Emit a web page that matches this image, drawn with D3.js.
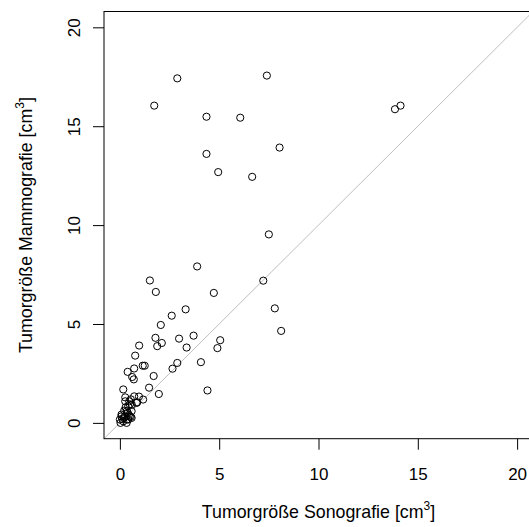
<!DOCTYPE html>
<html>
<head>
<meta charset="utf-8">
<script src="https://cdn.jsdelivr.net/npm/d3@7"></script>
<style>
  body { margin: 0; background: #fff; }
  svg { display: block; font-family: "Liberation Sans", Arial, sans-serif; }
</style>
</head>
<body>
<svg width="529" height="527"></svg>
<script>
// Tumorgröße: Sonografie (x) vs. Mammografie (y), cm^3
const sono = [
  2.89, 1.73, 4.36, 6.06, 7.40, 8.04, 4.36, 4.95, 6.66, 13.85, 14.13, 7.50, 7.22, 7.80, 8.12,
  3.89, 1.51, 1.81, 4.73, 3.31, 2.61, 2.06, 1.79, 2.11, 1.88, 2.98, 3.71, 5.05, 4.91, 3.36,
  4.08, 4.41, 2.89, 2.65, 1.70, 1.47, 1.96, 0.97, 0.77, 1.15, 1.25, 0.72, 0.39, 0.62, 0.70,
  0.17, 0.27, 0.55, 0.96, 1.17, 0.87,
  0.50, 0.29, 0.22, 0.39, 0.55, 0.08, 0.00, 0.17, 0.34, 0.72, 0.27, 0.47, 0.60, 0.84, 0.42,
  0.34, 0.59, 0.08, 0.25, 0.50, 0.42, 0.59, 0.34, 0.03, 0.12, 0.20, 0.45
];
const mammo = [
  17.42, 16.04, 15.48, 15.43, 17.56, 13.92, 13.60, 12.68, 12.44, 15.86, 16.04, 9.53, 7.19, 5.79, 4.65,
  7.91, 7.20, 6.62, 6.57, 5.74, 5.42, 4.95, 4.30, 4.04, 3.88, 4.26, 4.41, 4.18, 3.78, 3.81,
  3.07, 1.64, 3.03, 2.74, 2.37, 1.78, 1.46, 3.91, 3.40, 2.89, 2.89, 2.75, 2.58, 2.32, 2.20,
  1.69, 1.29, 1.19, 1.33, 1.18, 1.04,
  0.94, 0.79, 0.62, 0.51, 0.30, 0.33, 0.17, 0.08, 0.17, 1.34, 1.09, 1.09, 0.92, 1.01, 0.84,
  0.59, 0.59, 0.42, 0.33, 0.33, 0.17, 0.25, 0.00, 0.00, 0.20, 0.25, 0.40
];
const ticks = [0, 5, 10, 15, 20];
const xTitle = "Tumorgröße Sonografie [cm";
const yTitle = "Tumorgröße Mammografie [cm";

const svg = d3.select("svg");
const tickSize = 17;
const titleSize = 17.8;

const x = d3.scaleLinear().domain([-0.8, 20.8]).range([104, 533]);
const y = d3.scaleLinear().domain([-0.8, 20.8]).range([438.7, 11.5]);

svg.append("clipPath")
  .attr("id", "plot-clip")
  .append("rect")
  .attr("x", x.range()[0])
  .attr("y", y.range()[1])
  .attr("width", x.range()[1] - x.range()[0])
  .attr("height", y.range()[0] - y.range()[1]);

// abline(0, 1)
svg.append("line")
  .attr("clip-path", "url(#plot-clip)")
  .attr("x1", x(-0.8)).attr("y1", y(-0.8))
  .attr("x2", x(20.8)).attr("y2", y(20.8))
  .attr("stroke", "#bebebe")
  .attr("stroke-width", 1);

svg.append("g")
  .attr("fill", "none")
  .attr("stroke", "#000")
  .attr("stroke-width", 1)
  .selectAll("circle")
  .data(d3.range(sono.length)).enter()
  .append("circle")
  .attr("cx", i => x(sono[i]))
  .attr("cy", i => y(mammo[i]))
  .attr("r", 3.6);

// box
svg.append("rect")
  .attr("x", x.range()[0])
  .attr("y", y.range()[1])
  .attr("width", x.range()[1] - x.range()[0])
  .attr("height", y.range()[0] - y.range()[1])
  .attr("fill", "none")
  .attr("stroke", "#000");

// x axis
const xAxis = svg.append("g")
  .attr("transform", `translate(0,${y.range()[0]})`)
  .call(d3.axisBottom(x).tickValues(ticks).tickSize(11).tickPadding(0).tickFormat(d3.format("d")));
xAxis.select(".domain").remove();
xAxis.selectAll("line").attr("stroke", "#000");
xAxis.selectAll("text")
  .attr("y", 41.5)
  .attr("dy", 0)
  .attr("fill", "#000")
  .attr("font-size", tickSize)
  .attr("font-family", "Liberation Sans, Arial, sans-serif");

// y axis
const yAxis = svg.append("g")
  .attr("transform", `translate(${x.range()[0]},0)`)
  .call(d3.axisLeft(y).tickValues(ticks).tickSize(11).tickPadding(0).tickFormat(d3.format("d")));
yAxis.select(".domain").remove();
yAxis.selectAll("line").attr("stroke", "#000");
yAxis.selectAll("text")
  .attr("x", null).attr("dy", null)
  .attr("text-anchor", "middle")
  .attr("transform", "translate(-24,0) rotate(-90)")
  .attr("fill", "#000")
  .attr("font-size", tickSize)
  .attr("font-family", "Liberation Sans, Arial, sans-serif");

// axis titles
const cx = (x.range()[0] + x.range()[1]) / 2;
const cy = (y.range()[0] + y.range()[1]) / 2;

const xt = svg.append("text")
  .attr("x", cx)
  .attr("y", 518)
  .attr("text-anchor", "middle")
  .attr("font-size", titleSize);
xt.append("tspan").text(xTitle);
xt.append("tspan").attr("font-size", 12).attr("dy", -8).text("3");
xt.append("tspan").attr("dy", 8).text("]");

const yt = svg.append("text")
  .attr("transform", `translate(31.5,${cy}) rotate(-90)`)
  .attr("text-anchor", "middle")
  .attr("font-size", titleSize);
yt.append("tspan").text(yTitle);
yt.append("tspan").attr("font-size", 12).attr("dy", -8).text("3");
yt.append("tspan").attr("dy", 8).text("]");
</script>
</body>
</html>
